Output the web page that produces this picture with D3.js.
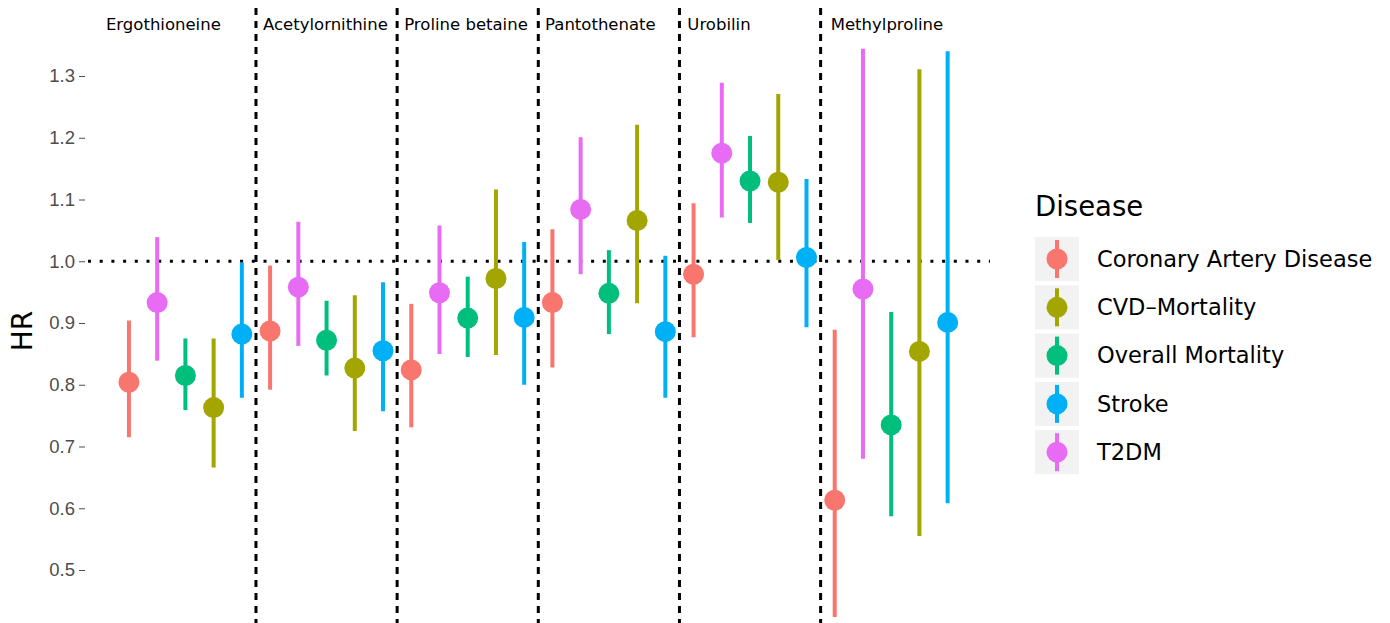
<!DOCTYPE html>
<html>
<head>
<meta charset="utf-8">
<script src="https://cdn.jsdelivr.net/npm/d3@7"></script>
<style>
  body { margin: 0; background: #fff; }
  svg { font-family: "DejaVu Sans", Verdana, sans-serif; }
</style>
</head>
<body>
<svg id="chart" width="1390" height="623"></svg>
<script>
// metabolites, left to right
const metabolites = ["Ergothioneine", "Acetylornithine", "Proline betaine", "Pantothenate", "Urobilin", "Methylproline"];
// where each metabolite label sits (x, in slot units)
const labelPos = [2.22, 7.96, 12.94, 17.7, 21.9, 27.85];

// legend order
const diseases = ["Coronary Artery Disease", "CVD\u2013Mortality", "Overall Mortality", "Stroke", "T2DM"];
// order of the points inside every metabolite group
const slotOrder = ["Coronary Artery Disease", "T2DM", "Overall Mortality", "CVD\u2013Mortality", "Stroke"];

// HR and 95% CI, one value per metabolite
const cadHR   = [0.804, 0.887, 0.824, 0.933, 0.979, 0.613];
const cadLo   = [0.715, 0.792, 0.731, 0.828, 0.877, 0.424];
const cadHi   = [0.904, 0.993, 0.931, 1.052, 1.094, 0.889];
const cvdHR   = [0.763, 0.827, 0.972, 1.066, 1.128, 0.854];
const cvdLo   = [0.666, 0.725, 0.848, 0.932, 1.002, 0.555];
const cvdHi   = [0.875, 0.945, 1.116, 1.221, 1.271, 1.311];
const allHR   = [0.815, 0.872, 0.908, 0.948, 1.130, 0.735];
const allLo   = [0.759, 0.815, 0.845, 0.882, 1.062, 0.587];
const allHi   = [0.875, 0.936, 0.975, 1.018, 1.203, 0.918];
const strHR   = [0.882, 0.855, 0.909, 0.886, 1.006, 0.901];
const strLo   = [0.779, 0.757, 0.800, 0.779, 0.893, 0.608];
const strHi   = [0.998, 0.966, 1.031, 1.009, 1.133, 1.340];
const t2dHR   = [0.933, 0.958, 0.949, 1.084, 1.175, 0.955];
const t2dLo   = [0.839, 0.863, 0.850, 0.979, 1.071, 0.680];
const t2dHi   = [1.039, 1.064, 1.058, 1.201, 1.289, 1.344];

const yTicks = [0.5, 0.6, 0.7, 0.8, 0.9, 1.0, 1.1, 1.2, 1.3];
const colors = ["#F8766D", "#A3A500", "#00BF7D", "#00B0F6", "#E76BF3"];

const series = {};
series[diseases[0]] = [cadHR, cadLo, cadHi];
series[diseases[1]] = [cvdHR, cvdLo, cvdHi];
series[diseases[2]] = [allHR, allLo, allHi];
series[diseases[3]] = [strHR, strLo, strHi];
series[diseases[4]] = [t2dHR, t2dLo, t2dHi];

// flat table, slot = 1..30
let rows = [];
metabolites.forEach(function(m, i) {
  slotOrder.forEach(function(d, j) {
    const s = series[d];
    rows.push({ metabolite: m, disease: d, slot: i * slotOrder.length + j + 1,
                hr: s[0][i], lo: s[1][i], hi: s[2][i] });
  });
});

const svg = d3.select("#chart");

const x = d3.scaleLinear().domain([-0.45, 31.5]).range([88, 990]);
const y = d3.scaleLinear().domain([0.5, 1.3]).range([570, 76]);
const color = d3.scaleOrdinal().domain(diseases).range(colors);

// y axis
const yAxis = d3.axisLeft(y)
  .tickValues(yTicks)
  .tickFormat(d3.format(".1f"))
  .tickSize(6)
  .tickPadding(4);

const gy = svg.append("g")
  .attr("transform", "translate(85,0)")
  .call(yAxis);
gy.select(".domain").remove();
gy.selectAll(".tick line").attr("stroke", "#4d4d4d").attr("stroke-width", 1);
gy.selectAll(".tick text").attr("fill", "#4d4d4d").style("font-size", "18.5px");

svg.append("text")
  .attr("transform", "translate(32,331) rotate(-90)")
  .attr("text-anchor", "middle")
  .style("font-size", "28px")
  .text("HR");

// reference line at HR = 1
svg.append("line")
  .attr("x1", x.range()[0]).attr("x2", x.range()[1])
  .attr("y1", y(1)).attr("y2", y(1))
  .attr("stroke", "#000")
  .attr("stroke-width", 3)
  .attr("stroke-dasharray", "3,8.7");

// group separators
const seps = d3.range(1, metabolites.length).map(function(i) { return i * slotOrder.length + 0.5; });
svg.selectAll("line.sep")
  .data(seps)
  .enter().append("line")
  .attr("class", "sep")
  .attr("x1", function(d) { return x(d); })
  .attr("x2", function(d) { return x(d); })
  .attr("y1", 8).attr("y2", 623)
  .attr("stroke", "#000")
  .attr("stroke-width", 3)
  .attr("stroke-dasharray", "7,6");

// metabolite labels
svg.selectAll("text.met")
  .data(metabolites)
  .enter().append("text")
  .attr("class", "met")
  .attr("x", function(d, i) { return x(labelPos[i]); })
  .attr("y", 30)
  .attr("text-anchor", "middle")
  .style("font-size", "16.5px")
  .text(function(d) { return d; });

// error bars
svg.selectAll("line.ci")
  .data(rows)
  .enter().append("line")
  .attr("class", "ci")
  .attr("x1", function(d) { return x(d.slot); })
  .attr("x2", function(d) { return x(d.slot); })
  .attr("y1", function(d) { return y(d.lo); })
  .attr("y2", function(d) { return y(d.hi); })
  .attr("stroke", function(d) { return color(d.disease); })
  .attr("stroke-width", 4);

// points
svg.selectAll("circle.pt")
  .data(rows)
  .enter().append("circle")
  .attr("class", "pt")
  .attr("cx", function(d) { return x(d.slot); })
  .attr("cy", function(d) { return y(d.hr); })
  .attr("r", 10.5)
  .attr("fill", function(d) { return color(d.disease); });

// legend
const legend = svg.append("g").attr("transform", "translate(1035,0)");

legend.append("text")
  .attr("x", 0).attr("y", 216)
  .style("font-size", "27.5px")
  .text("Disease");

const keys = legend.selectAll("g.key")
  .data(diseases)
  .enter().append("g")
  .attr("class", "key")
  .attr("transform", function(d, i) { return "translate(0," + (237 + 48.3 * i) + ")"; });

keys.append("rect")
  .attr("width", 44).attr("height", 44)
  .attr("fill", "#f2f2f2");

keys.append("line")
  .attr("x1", 22).attr("x2", 22)
  .attr("y1", 3).attr("y2", 41)
  .attr("stroke", function(d) { return color(d); })
  .attr("stroke-width", 4);

keys.append("circle")
  .attr("cx", 22).attr("cy", 22).attr("r", 10.5)
  .attr("fill", function(d) { return color(d); });

keys.append("text")
  .attr("x", 62).attr("y", 22)
  .attr("dy", "0.35em")
  .style("font-size", "22.5px")
  .text(function(d) { return d; });
</script>
</body>
</html>
